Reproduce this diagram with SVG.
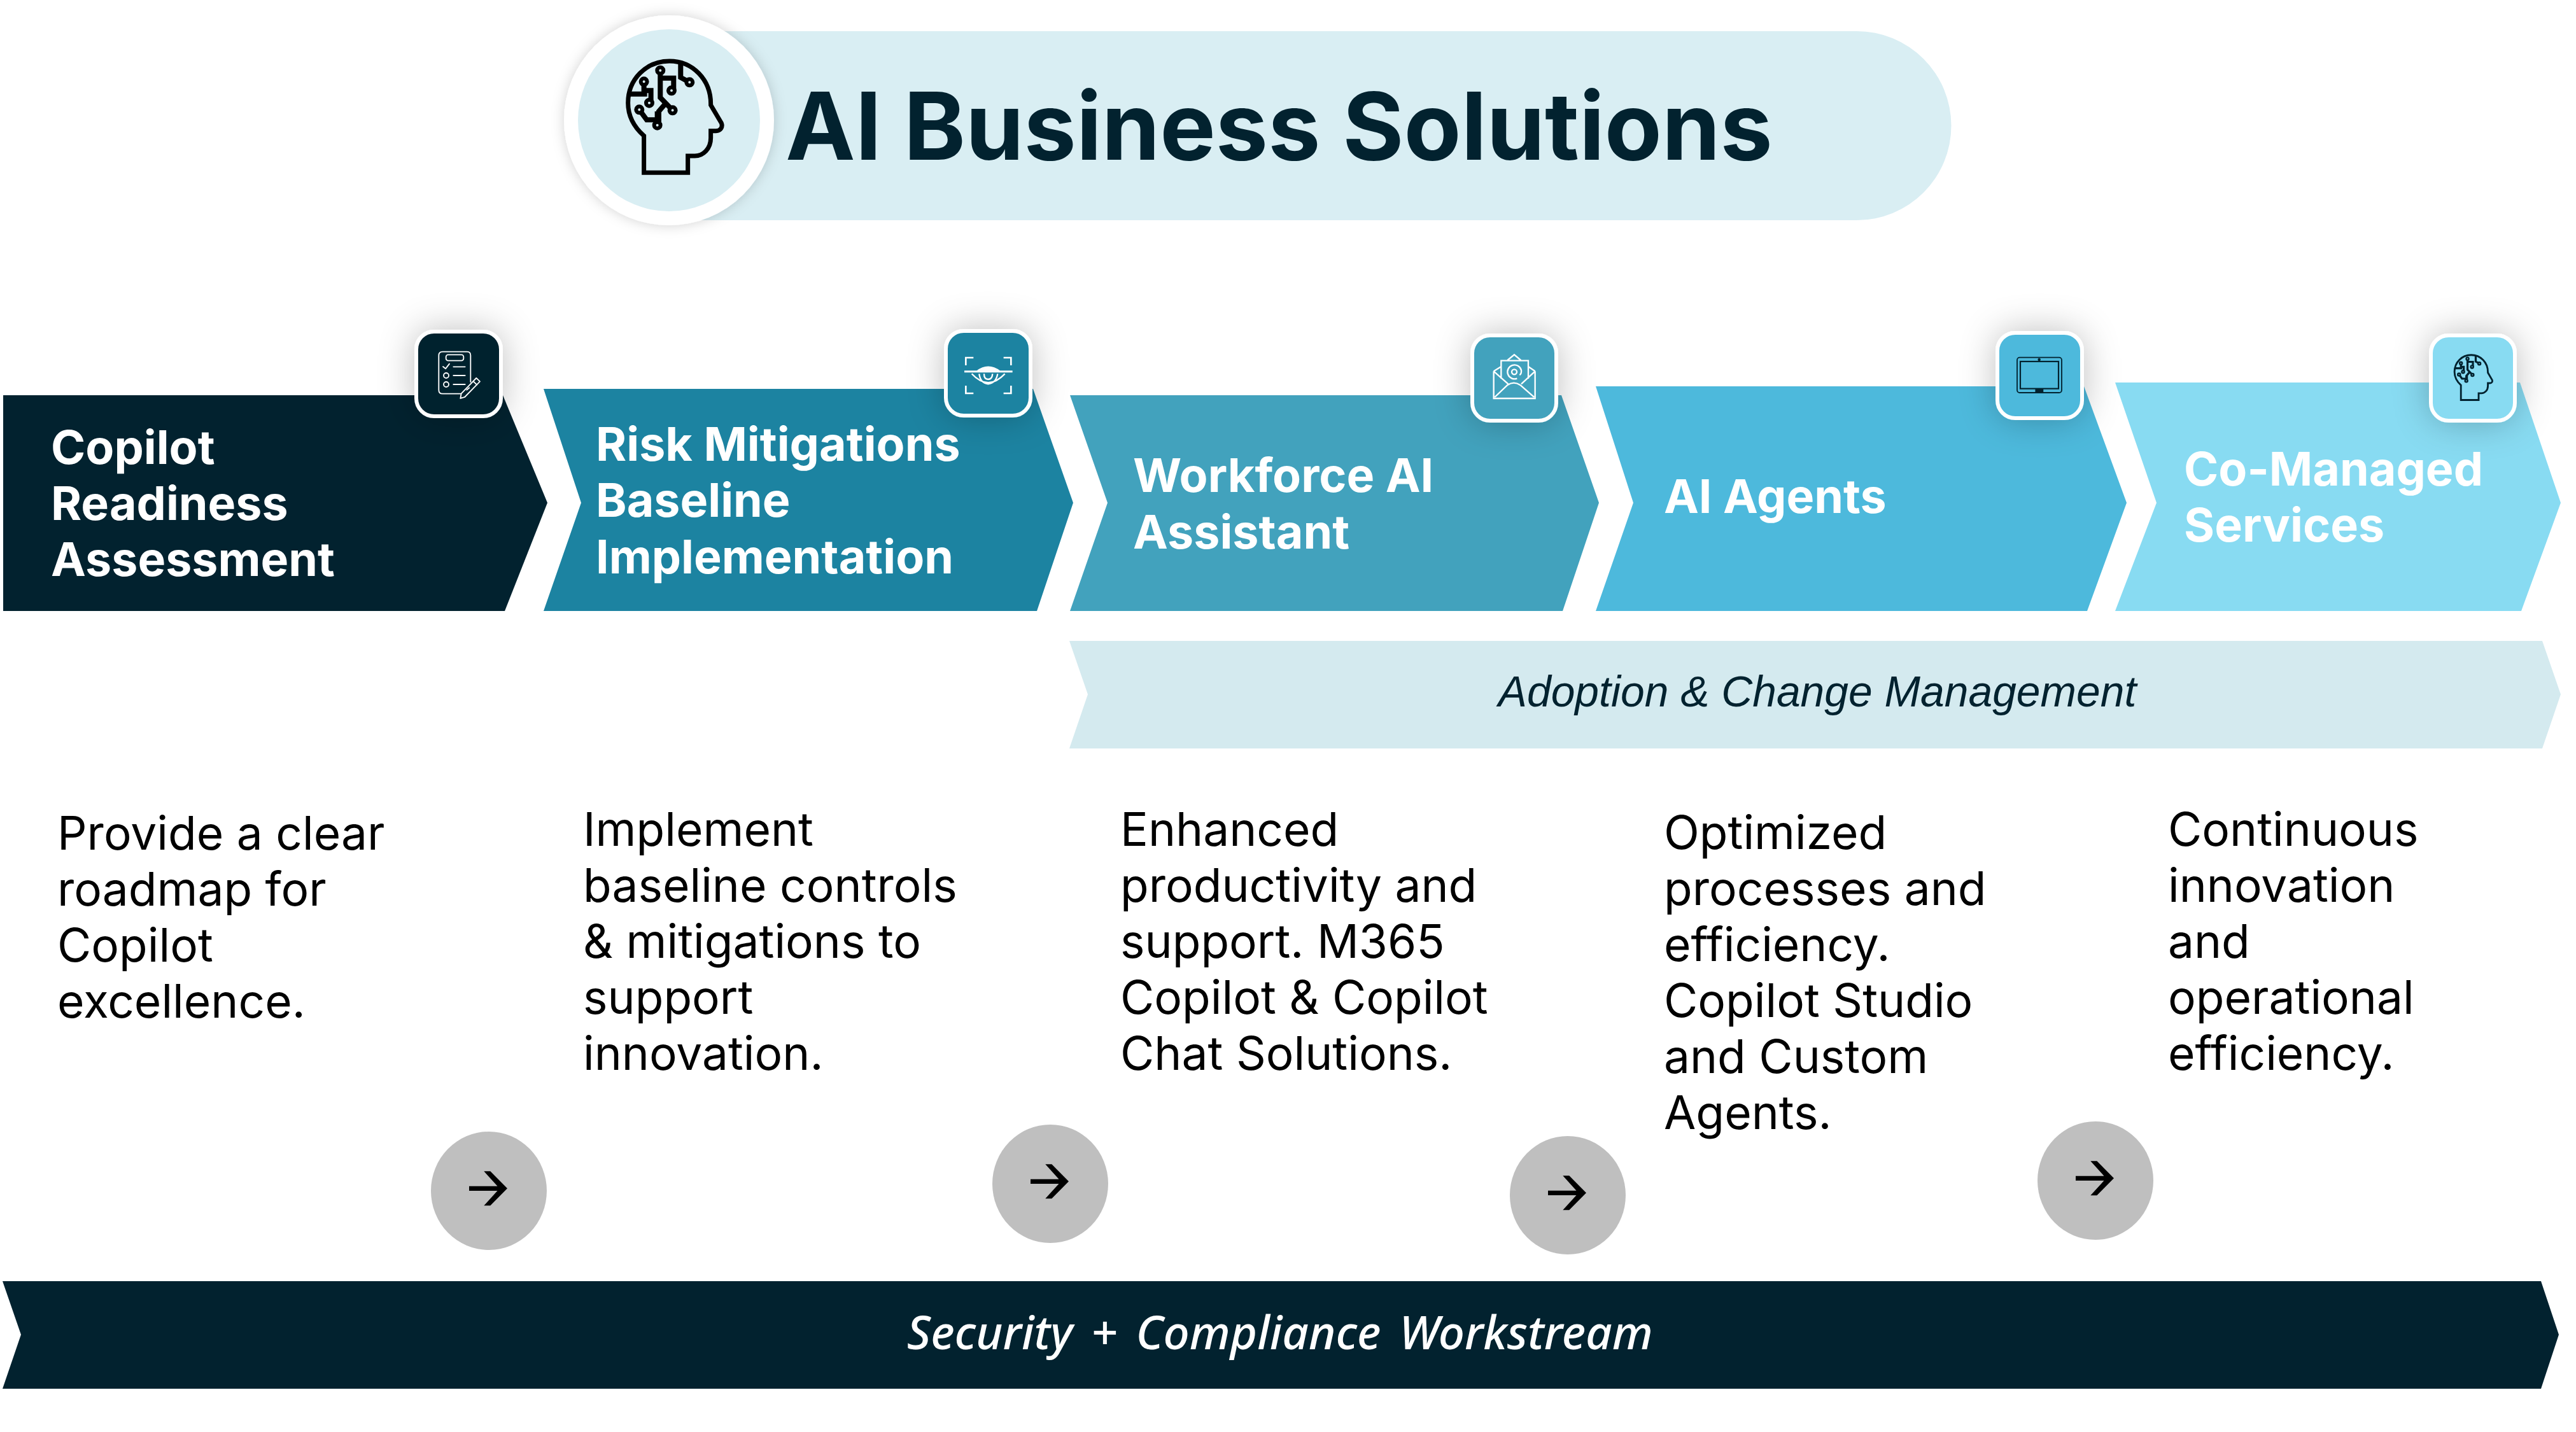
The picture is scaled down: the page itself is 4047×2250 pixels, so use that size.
<svg xmlns="http://www.w3.org/2000/svg" xmlns:xlink="http://www.w3.org/1999/xlink" width="4047" height="2250" viewBox="0 0 4047 2250">
<style>
text{font-family:"Inter","Liberation Sans",sans-serif}
.title{font-size:147px;font-weight:700;fill:#02222F}
.h{font-size:73.500px;font-weight:700}
.w{fill:#fff}
.d{fill:#02222F}
.b{font-size:73px;font-weight:400;fill:#000}
.ad{font-family:"Liberation Sans",Arial,sans-serif;font-style:italic;font-size:67.800px;text-anchor:middle;fill:#02222F}
.se{font-family:"Noto Sans","Open Sans",sans-serif;font-style:italic;font-weight:500;font-size:72.500px;text-anchor:middle;fill:#fff;word-spacing:10px}
.tile{stroke:#fff;stroke-width:6;filter:url(#sh)}
.ln{fill:none;stroke:#fff;stroke-linecap:round;stroke-linejoin:round;stroke-width:6}
.sq{fill:none;stroke:#fff;stroke-width:8}
.cir{fill:#BFBFBF}
</style>
<defs>
<filter id="sh" x="-60%" y="-60%" width="220%" height="220%"><feGaussianBlur stdDeviation="28"/><feColorMatrix type="matrix" values="0 0 0 0 0 0 0 0 0 0 0 0 0 0 0 0 0 0 .25 0" result="s"/><feMerge><feMergeNode in="s"/><feMergeNode in="SourceGraphic"/></feMerge></filter>
<filter id="glow" x="-20%" y="-20%" width="140%" height="140%"><feGaussianBlur stdDeviation="10"/><feColorMatrix type="matrix" values="0 0 0 0 0 0 0 0 0 0 0 0 0 0 0 0 0 0 .18 0" result="s"/><feMerge><feMergeNode in="s"/><feMergeNode in="SourceGraphic"/></feMerge></filter>
<g id="head">
<path d="M455 814V640C410 600 380 550 380 485C380 375 465 288 575 288C685 288 770 375 770 490V495L820 580C828 600 815 617 795 617H770V650C770 700 735 735 695 735H662V814Z" fill="none" stroke-width="21" stroke-linejoin="miter"/>
<path d="M532 332V460L590 520M530 368H595V427M628 300V365L670 388M455 385V427H488V485M385 443H470M433 517L468 565H525V525L555 490M518 590V525" fill="none" stroke-width="24"/>
<circle cx="532" cy="332" r="15" stroke-width="18"/><circle cx="455" cy="385" r="15" stroke-width="18"/><circle cx="480" cy="485" r="15" stroke-width="18"/><circle cx="585" cy="427" r="15" stroke-width="18"/><circle cx="670" cy="388" r="15" stroke-width="18"/><circle cx="433" cy="517" r="15" stroke-width="18"/><circle cx="590" cy="520" r="15" stroke-width="18"/><circle cx="518" cy="590" r="15" stroke-width="18"/>
</g>
<g id="arr"><ellipse class="cir" rx="91" ry="93"/><path d="M-31-7.3H13.5L-7.7-30.7H2.3L29-3.7L2.3 23.3H-7.7L13.5 0H-31Z" fill="#000"/></g>
</defs>
<rect width="4047" height="2250" fill="#fff"/>
<g id="title">
<path d="M1051 49H2917A148.500 148.500 0 0 1 2917 346H1051Z" fill="#D9EEF3"/>
<circle cx="1051" cy="189" r="165" fill="#fff" filter="url(#glow)"/>
<circle cx="1051" cy="189" r="143" fill="#D9EEF3"/>
<use href="#head" transform="translate(860 0) scale(.3333)" stroke="#000" fill="#D9EEF3"/>
<text class="title" x="1234" y="251">AI Business Solutions</text>
</g>
<g id="step1">
<path d="M5 621H790L860 790L793 960H5Z" fill="#02222F"/>
<text class="h w"><tspan x="80" y="729">Copilot</tspan><tspan x="80" y="817">Readiness</tspan><tspan x="80" y="905">Assessment</tspan></text>
<rect class="tile" x="654" y="521" width="133" height="133" rx="28" fill="#02222F"/>
<g transform="translate(620 500) scale(.3333)" class="ln" style="stroke-width:5.500">
<path d="M358 300V175Q358 158 342 158H226Q208 158 208 176V338Q208 356 226 356H310"/><rect x="242" y="172" width="83" height="28" rx="10"/><path d="M228 228L240 238L258 215M277 229H332M277 270H332M277 312H332"/><circle cx="243" cy="270" r="12"/><circle cx="243" cy="312" r="12"/><path d="M385 282L402 298L330 372L310 378L314 355ZM370 297L388 314M340 338L352 328"/>
</g>
</g>
<g id="step2">
<path d="M854 611H1623L1686 790L1629 960H854L913 790Z" fill="#1C83A1"/>
<text class="h w"><tspan x="936" y="724">Risk Mitigations</tspan><tspan x="936" y="812">Baseline</tspan><tspan x="936" y="901">Implementation</tspan></text>
<rect class="tile" x="1486" y="520" width="133" height="133" rx="28" fill="#1C83A1"/>
<g transform="translate(1460 500) scale(.3333)">
<path class="sq" d="M172 222V186H208M350 186H385V222M172 318V354H208M350 354H385V318"/>
<path d="M165 251H392" stroke="#fff" stroke-width="9"/><path d="M222 248Q277 205 335 248Z" fill="#fff"/>
<path d="M200 262Q277 345 356 262M235 262Q240 305 277 310Q315 305 322 262M258 262Q258 288 277 288Q296 288 298 262" fill="none" stroke="#fff" stroke-width="7"/>
</g>
</g>
<g id="step3">
<path d="M1681 621H2453L2512 790L2455 960H1681L1740 790Z" fill="#42A2BD"/>
<text class="h w"><tspan x="1780" y="773">Workforce AI</tspan><tspan x="1780" y="862">Assistant</tspan></text>
<rect class="tile" x="2313" y="527" width="132" height="134" rx="28" fill="#42A2BD"/>
<g transform="translate(2300 500) scale(.3333)" fill="none" stroke="#fff" stroke-width="7">
<path d="M140 250V378H335V250M140 250L210 312M335 250L270 310M145 372L205 315Q235 295 265 315L330 372M140 250L175 228M335 250L303 228M205 198L237 172L268 198M175 285V200H303V285"/><circle cx="237" cy="253" r="12"/><path d="M262 268Q272 262 270 245A33 33 0 1 0 250 284"/>
</g>
</g>
<g id="step4">
<path d="M2507 607H3274L3341 790L3279 960H2507L2566 790Z" fill="#4DB9DC"/>
<text class="h w"><tspan x="2614" y="806">AI Agents</tspan></text>
<rect class="tile" x="3138" y="523" width="133" height="134" rx="28" fill="#4DB9DC"/>
<g transform="translate(3130 500) scale(.3333)" fill="none" stroke="#02222F" stroke-width="5.500">
<rect x="117" y="185" width="210" height="166" rx="12"/><rect x="132" y="204" width="180" height="128" stroke-width="6.500"/><circle cx="221" cy="195" r="4" fill="#02222F"/><rect x="205" y="333" width="33" height="17" fill="#02222F"/>
</g>
</g>
<g id="step5">
<path d="M3323 601H3959L4023 790L3961 960H3323L3388 790Z" fill="#88DBF2"/>
<text class="h w"><tspan x="3431" y="763">Co-Managed</tspan><tspan x="3431" y="851">Services</tspan></text>
<rect class="tile" x="3819" y="527" width="132" height="134" rx="28" fill="#88DBF2"/>
<use href="#head" transform="translate(3805 519) scale(.1345)" stroke="#02222F" fill="#88DBF2"/>
</g>
<g id="adoption">
<path d="M1680 1007H3994L4023 1091L3994 1176H1680L1709 1091Z" fill="#D4EAEF"/>
<text class="ad" x="2855" y="1110">Adoption &amp; Change Management</text>
</g>
<g id="desc1"><text class="b"><tspan x="90" y="1335">Provide a clear</tspan><tspan x="90" y="1423">roadmap for</tspan><tspan x="90" y="1511">Copilot</tspan><tspan x="90" y="1599">excellence.</tspan></text></g>
<g id="desc2"><text class="b"><tspan x="916" y="1329">Implement</tspan><tspan x="916" y="1417">baseline controls</tspan><tspan x="916" y="1505">&amp; mitigations to</tspan><tspan x="916" y="1593">support</tspan><tspan x="916" y="1681">innovation.</tspan></text></g>
<g id="desc3"><text class="b"><tspan x="1760" y="1329">Enhanced</tspan><tspan x="1760" y="1417">productivity and</tspan><tspan x="1760" y="1505">support. M365</tspan><tspan x="1760" y="1593">Copilot &amp; Copilot</tspan><tspan x="1760" y="1681">Chat Solutions.</tspan></text></g>
<g id="desc4"><text class="b"><tspan x="2614" y="1334">Optimized</tspan><tspan x="2614" y="1422">processes and</tspan><tspan x="2614" y="1510">efficiency.</tspan><tspan x="2614" y="1598">Copilot Studio</tspan><tspan x="2614" y="1686">and Custom</tspan><tspan x="2614" y="1774">Agents.</tspan></text></g>
<g id="desc5"><text class="b"><tspan x="3406" y="1329">Continuous</tspan><tspan x="3406" y="1417">innovation</tspan><tspan x="3406" y="1505">and</tspan><tspan x="3406" y="1593">operational</tspan><tspan x="3406" y="1681">efficiency.</tspan></text></g>
<g id="connectors">
<use href="#arr" x="768" y="1871"/>
<use href="#arr" x="1650" y="1860"/>
<use href="#arr" x="2463" y="1878"/>
<use href="#arr" x="3292" y="1855"/>
</g>
<g id="security">
<path d="M4 2013H3992L4020 2097L3992 2182H4L33 2097Z" fill="#02222F"/>
<text class="se" x="2011" y="2120">Security + Compliance Workstream</text>
</g>
</svg>
